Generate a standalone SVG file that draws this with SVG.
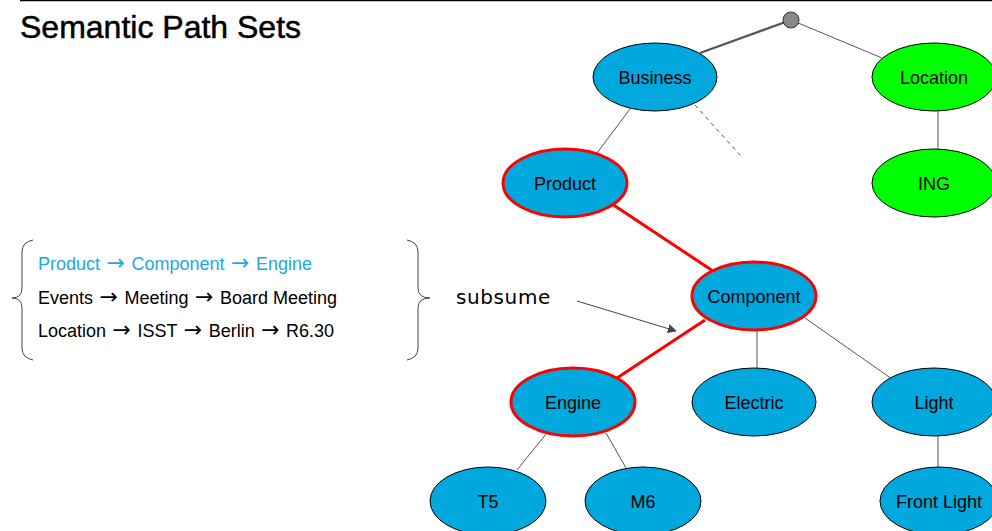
<svg xmlns="http://www.w3.org/2000/svg" width="992" height="531" viewBox="0 0 992 531">
  <style>
    text { font-family: "Liberation Sans", Arial, sans-serif; }
    .node { fill: #00A8DE; stroke: #000; stroke-width: 1; }
    .geo { fill: #00FF00; stroke: #000; stroke-width: 1; }
    .hl { stroke: #FF0000; stroke-width: 3; }
    .lbl { font-size: 18px; fill: #000; text-anchor: middle; }
    .edge { stroke: #555; stroke-width: 1; fill: none; }
    .path { font-size: 18px; fill: #000; }
    .arr { font-family: "DejaVu Sans", sans-serif; font-size: 22px; }
  </style>
  <defs>
    <marker id="arrow" viewBox="0 0 10 10" refX="9" refY="5" markerWidth="9" markerHeight="9" markerUnits="userSpaceOnUse" orient="auto">
      <path d="M0,0 L10,5 L0,10 Z" fill="#444"/>
    </marker>
  </defs>
  <rect width="992" height="531" fill="#fff"/>
  <line x1="20" y1="0.5" x2="992" y2="0.5" stroke="#000" stroke-width="1.5"/>
  <text x="20" y="38" font-size="32" fill="#000" stroke="#000" stroke-width="0.5">Semantic Path Sets</text>

  <!-- path set list with braces -->
  <g id="pathset">
    <path d="M33,240 Q22,242 22,252 L22,288 Q22,298 12,298 Q22,298 22,308 L22,348 Q22,358 33,360" fill="none" stroke="#444" stroke-width="1"/>
    <path d="M407,240 Q418,242 418,252 L418,288 Q418,298 430,298 Q418,298 418,308 L418,348 Q418,358 407,360" fill="none" stroke="#444" stroke-width="1"/>
    <text class="path" x="38" y="270" style="fill:#1EA8E0">Product <tspan class="arr" dx="1.5">→</tspan><tspan dx="1.5"> Component </tspan><tspan class="arr" dx="1.5">→</tspan><tspan dx="1.5"> Engine</tspan></text>
    <text class="path" x="38" y="304">Events <tspan class="arr" dx="1.5">→</tspan><tspan dx="1.5"> Meeting </tspan><tspan class="arr" dx="1.5">→</tspan><tspan dx="1.5"> Board Meeting</tspan></text>
    <text class="path" x="38" y="337">Location <tspan class="arr" dx="1.5">→</tspan><tspan dx="1.5"> ISST </tspan><tspan class="arr" dx="1.5">→</tspan><tspan dx="1.5"> Berlin </tspan><tspan class="arr" dx="1.5">→</tspan><tspan dx="1.5"> R6.30</tspan></text>
  </g>
  <text x="456" y="304" font-size="20" letter-spacing="0.6" style="font-family:'DejaVu Sans', sans-serif" fill="#000">subsume</text>

  <!-- connectors -->
  <g id="connectors">
    <line x1="791" y1="20" x2="700" y2="53" stroke="#555" stroke-width="2.2"/>
    <line class="edge" x1="791" y1="20" x2="882" y2="58"/>
    <line class="edge" x1="630" y1="109" x2="597" y2="153" stroke="#222"/>
    <line class="edge" x1="695" y1="105" x2="740" y2="155" stroke-dasharray="4,4"/>
    <line class="edge" x1="938" y1="111" x2="938" y2="149" stroke="#888" stroke-width="1.5"/>
    <line x1="612" y1="204" x2="713" y2="271" class="hl"/>
    <line x1="705" y1="320" x2="617" y2="378" class="hl"/>
    <line class="edge" x1="757" y1="331" x2="757" y2="368"/>
    <line class="edge" x1="805" y1="318" x2="892" y2="379"/>
    <line class="edge" x1="546" y1="434" x2="517" y2="470"/>
    <line class="edge" x1="606" y1="433" x2="626" y2="468"/>
    <line class="edge" x1="938" y1="436" x2="938" y2="467" stroke="#888" stroke-width="1.5"/>
    <line x1="577" y1="301" x2="676" y2="331" stroke="#444" stroke-width="1" marker-end="url(#arrow)"/>
  </g>

  <g id="root"><circle cx="791" cy="20" r="8" fill="#888" stroke="#333" stroke-width="1"/></g>
  <g id="n-business"><ellipse class="node" cx="655" cy="77" rx="62" ry="34"/><text class="lbl" x="655" y="83.5">Business</text></g>
  <g id="n-location"><ellipse class="geo" cx="934" cy="77" rx="62" ry="34"/><text class="lbl" x="934" y="83.5">Location</text></g>
  <g id="n-ing"><ellipse class="geo" cx="934" cy="183" rx="62" ry="34"/><text class="lbl" x="934" y="189.5">ING</text></g>
  <g id="n-product"><ellipse class="node hl" cx="565" cy="183" rx="62" ry="34"/><text class="lbl" x="565" y="189.5">Product</text></g>
  <g id="n-component"><ellipse class="node hl" cx="754" cy="296" rx="62" ry="34"/><text class="lbl" x="754" y="302.5">Component</text></g>
  <g id="n-engine"><ellipse class="node hl" cx="573" cy="402" rx="62" ry="34"/><text class="lbl" x="573" y="408.5">Engine</text></g>
  <g id="n-electric"><ellipse class="node" cx="754" cy="402" rx="62" ry="34"/><text class="lbl" x="754" y="408.5">Electric</text></g>
  <g id="n-light"><ellipse class="node" cx="934" cy="402" rx="62" ry="34"/><text class="lbl" x="934" y="408.5">Light</text></g>
  <g id="n-t5"><ellipse class="node" cx="488" cy="501" rx="58" ry="34"/><text class="lbl" x="488" y="507.5">T5</text></g>
  <g id="n-m6"><ellipse class="node" cx="643" cy="501" rx="58" ry="34"/><text class="lbl" x="643" y="507.5">M6</text></g>
  <g id="n-frontlight"><ellipse class="node" cx="939" cy="501" rx="59" ry="34"/><text class="lbl" x="939" y="507.5">Front Light</text></g>
</svg>
